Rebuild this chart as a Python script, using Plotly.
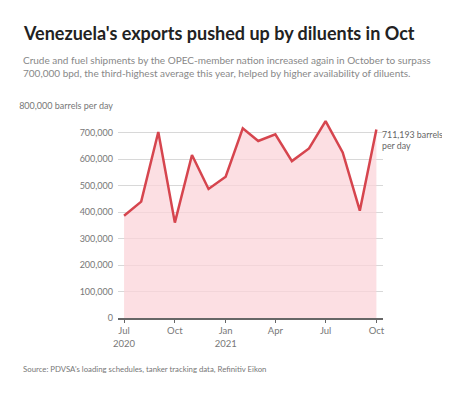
import plotly.graph_objects as go

months = ["2020-07-01", "2020-08-01", "2020-09-01", "2020-10-01", "2020-11-01", "2020-12-01",
          "2021-01-01", "2021-02-01", "2021-03-01", "2021-04-01", "2021-05-01", "2021-06-01",
          "2021-07-01", "2021-08-01", "2021-09-01", "2021-10-01"]
exports = [386000, 439000, 702000, 360000, 615000, 487000,
           533000, 716000, 668000, 693000, 592000, 640000,
           743000, 625000, 405000, 711193]

y_tickvals = [0, 100000, 200000, 300000, 400000, 500000, 600000, 700000, 800000]
y_ticktext = ["0", "100,000", "200,000", "300,000", "400,000", "500,000", "600,000", "700,000",
              "800,000 barrels per day"]
x_tickvals = ["2020-07-01", "2020-10-01", "2021-01-01", "2021-04-01", "2021-07-01", "2021-10-01"]
x_ticktext = ["Jul<br>2020", "Oct", "Jan<br>2021", "Apr", "Jul", "Oct"]

title = "Venezuela's exports pushed up by diluents in Oct"
subtitle = ("Crude and fuel shipments by the OPEC-member nation increased again in October to surpass<br>"
            "700,000 bpd, the third-highest average this year, helped by higher availability of diluents.")
source = "Source: PDVSA's loading schedules, tanker tracking data, Refinitiv Eikon"
end_label = "711,193 barrels<br>per day"

FONT = "Lato"
OFF = 8  # page body margin
W, H = 450 - OFF, 393 - 2 * OFF
L, R, T, B = 118 - OFF, 67, 106 - OFF, 75 - OFF
pw = W - L - R
ph = H - T - B

def px_x(x):
    return (x - OFF - L) / pw

def px_y(y):
    return (H - B - (y - OFF)) / ph

fig = go.Figure()
fig.add_trace(go.Scatter(
    x=months, y=exports, mode="lines",
    line=dict(color="#d6454e", width=2.5),
    fill="tozeroy", fillcolor="rgba(251,212,217,0.75)",
    hoverinfo="skip", showlegend=False,
))

fig.update_layout(
    width=W, height=H,
    margin=dict(l=L, r=R, t=T, b=B),
    paper_bgcolor="white", plot_bgcolor="white",
    font=dict(family=FONT, color="#777777", size=9),
    xaxis=dict(
        type="date", range=["2020-06-20", "2021-10-13"],
        tickvals=x_tickvals, ticktext=x_ticktext, automargin=False,
        showgrid=False, zeroline=False,
        showline=True, linecolor="#666666", linewidth=2,
        ticks="outside", ticklen=3, tickcolor="#666666", tickwidth=1,
        tickfont=dict(size=9.5, color="#777777", family=FONT),
    ),
    yaxis=dict(
        range=[0, 800000], tickvals=y_tickvals, ticktext=y_ticktext, automargin=False,
        showgrid=True, gridcolor="#d8d8d8", gridwidth=1,
        zeroline=False, showline=False, ticks="",
        tickfont=dict(size=9, color="#777777", family=FONT),
        ticklabelstandoff=4,
    ),
    annotations=[
        dict(xref="paper", yref="paper", x=px_x(21), y=px_y(33), xanchor="left", yanchor="middle",
             text="<b>" + title + "</b>", showarrow=False,
             font=dict(family=FONT, size=18, color="#222222")),
        dict(xref="paper", yref="paper", x=px_x(21), y=px_y(66), xanchor="left", yanchor="middle",
             text=subtitle, showarrow=False, align="left",
             font=dict(family=FONT, size=10, color="#888888")),
        dict(xref="paper", yref="paper", x=px_x(21), y=px_y(369), xanchor="left", yanchor="middle",
             text=source, showarrow=False,
             font=dict(family=FONT, size=7.8, color="#777777")),
        dict(x=months[-1], y=exports[-1], xanchor="left", yanchor="middle",
             xshift=4, yshift=-10, text=end_label, showarrow=False, align="left",
             font=dict(family=FONT, size=8.8, color="#666666")),
    ],
)

fig.write_html("out.html")
